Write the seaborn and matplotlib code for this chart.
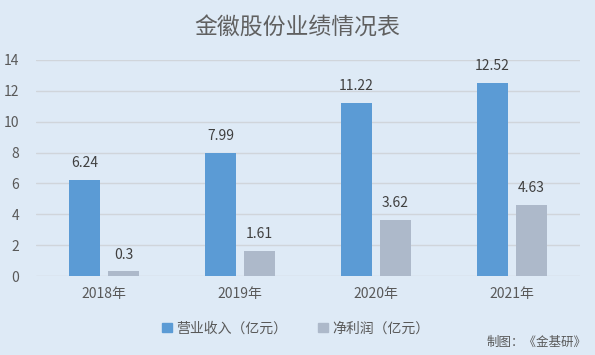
import matplotlib
matplotlib.use('Agg')
import matplotlib.pyplot as plt
import seaborn as sns
import pandas as pd
from matplotlib.patches import Patch

years = ['2018年', '2019年', '2020年', '2021年']
revenue = [6.24, 7.99, 11.22, 12.52]
profit = [0.3, 1.61, 3.62, 4.63]
series = ['营业收入（亿元）', '净利润（亿元）']
labels = [['6.24', '7.99', '11.22', '12.52'], ['0.3', '1.61', '3.62', '4.63']]

sns.set_style('white')
plt.rcParams['font.family'] = ['Noto Sans CJK SC', 'DejaVu Sans']

bg = '#DEEAF6'
txt = '#595959'

df = pd.DataFrame({
    'year': years * 2,
    'value': revenue + profit,
    'series': [series[0]] * 4 + [series[1]] * 4,
})

fig = plt.figure(figsize=(5.95, 3.55), dpi=100, facecolor=bg)
ax = fig.add_axes([0.0605, 0.2225, 0.9145, 0.6085])
ax.set_facecolor(bg)

sns.barplot(data=df, x='year', y='value', hue='series', ax=ax,
            palette=['#5B9BD5', '#ADB9CA'], width=0.574, gap=0.206,
            saturation=1, legend=False, linewidth=0, edgecolor='none')

for cont, lab in zip(ax.containers, labels):
    ax.bar_label(cont, labels=lab, padding=7, fontsize=10, color='#404040')

ax.set_ylim(0, 14)
ax.set_yticks(range(0, 15, 2))
ax.set_xlim(-0.5, 3.5)
ax.yaxis.grid(True, color='#D0D5DB', lw=1)
ax.set_axisbelow(True)
for s in ax.spines.values():
    s.set_visible(False)
ax.tick_params(axis='both', length=0, labelsize=10, colors=txt)
ax.tick_params(axis='y', pad=12)
ax.tick_params(axis='x', pad=8)
ax.set_xlabel('')
ax.set_ylabel('')

fig.text(0.5, 0.922, '金徽股份业绩情况表', ha='center', va='center',
         fontsize=16.5, color='#606060', fontweight='light')

handles = [Patch(color='#5B9BD5'), Patch(color='#ADB9CA')]
fig.legend(handles, series, loc='center', bbox_to_anchor=(0.497, 0.075),
           ncol=2, frameon=False, fontsize=10, labelcolor=txt,
           handlelength=0.7, handleheight=0.7, handletextpad=0.3,
           columnspacing=2.2)

fig.text(0.985, 0.035, '制图：《金基研》', ha='right', va='center',
         fontsize=9, color=txt)

fig.savefig('out.png', dpi=100, facecolor=bg)
